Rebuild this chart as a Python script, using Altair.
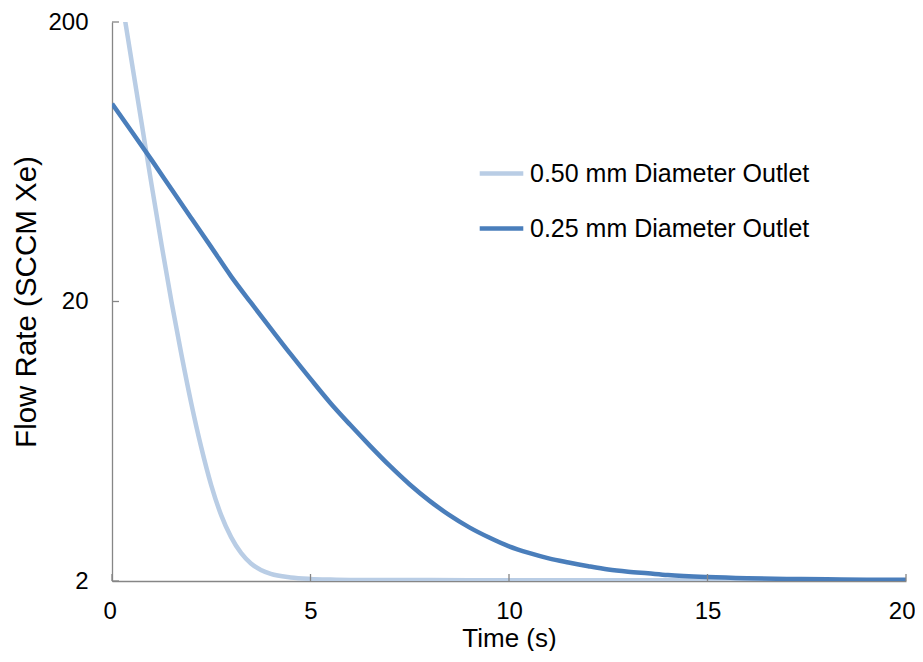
import altair as alt
import pandas as pd

# ---- data ----
series_names = ["0.50 mm Diameter Outlet", "0.25 mm Diameter Outlet"]

x_050 = [0, 0.25, 0.5, 0.75, 1.0, 1.25, 1.5, 1.75, 2.0, 2.25, 2.5, 2.75, 3.0,
         3.25, 3.5, 3.75, 4.0, 4.5, 5.0, 5.5, 6, 8, 10, 12, 14, 16, 18, 20]
y_050 = [390, 238, 143, 86.2, 52.0, 31.8, 19.9, 12.9, 8.6, 6.0, 4.4, 3.44, 2.87,
         2.52, 2.31, 2.19, 2.12, 2.06, 2.035, 2.024, 2.018, 2.015, 2.013, 2.012,
         2.011, 2.01, 2.01, 2.01]

x_025 = [0, 0.5, 1, 1.5, 2, 2.5, 3, 3.5, 4, 4.5, 5, 5.5, 6, 6.5, 7, 7.5, 8, 8.5,
         9, 9.5, 10, 10.5, 11, 11.5, 12, 12.5, 13, 13.5, 14, 15, 16, 17, 18, 19, 20]
y_025 = [102, 81, 64.1, 50.4, 39.7, 31.3, 24.6, 19.8, 16.0, 12.96, 10.57, 8.67, 7.24,
         6.09, 5.16, 4.43, 3.87, 3.44, 3.11, 2.86, 2.66, 2.52, 2.41, 2.33, 2.26, 2.20,
         2.16, 2.13, 2.10, 2.065, 2.045, 2.035, 2.027, 2.022, 2.02]

x_ticks = [0, 5, 10, 15, 20]
y_ticks = [2, 20, 200]

colors = ["#B9CDE5", "#4A7EBB"]

# ---- build tables ----
df_light = pd.DataFrame({"t": x_050, "flow": y_050, "series": series_names[0]})
df_dark = pd.DataFrame({"t": x_025, "flow": y_025, "series": series_names[1]})
df_xt = pd.DataFrame({"t": x_ticks})
df_yt = pd.DataFrame({"flow": y_ticks})

W, H = 794, 559
FONT = "Liberation Sans"

xscale = alt.Scale(domain=[0, 20], nice=False, zero=False)
yscale = alt.Scale(type="log", domain=[2, 200], nice=False)
cscale = alt.Scale(domain=series_names, range=colors)

x_enc = alt.X("t:Q", scale=xscale,
              axis=alt.Axis(title="Time (s)", values=x_ticks, grid=False, tickSize=0,
                            labelPadding=18, titlePadding=2, format="d",
                            labelFlush=True, labelFlushOffset=9, titleFontSize=26))
y_enc = alt.Y("flow:Q", scale=yscale,
              axis=alt.Axis(title="Flow Rate (SCCM Xe)", values=y_ticks, grid=False,
                            tickSize=0, labelPadding=24, titlePadding=6, format="d",
                            titleFontSize=29.5))

legend = alt.Legend(title=None, orient="none", legendX=365, legendY=127,
                    symbolType="stroke", symbolSize=1900, symbolStrokeWidth=4.5,
                    labelFont=FONT, labelFontSize=25, labelColor="#000000",
                    labelOffset=4, rowPadding=17, labelLimit=400)

light = alt.Chart(df_light).mark_line(clip=True, strokeWidth=4.5, interpolate="monotone").encode(
    x=x_enc, y=y_enc,
    color=alt.Color("series:N", scale=cscale, legend=legend, sort=series_names),
)
dark = alt.Chart(df_dark).mark_line(clip=True, strokeWidth=4.5, interpolate="monotone").encode(
    x=alt.X("t:Q", scale=xscale),
    y=alt.Y("flow:Q", scale=yscale),
    color=alt.Color("series:N", scale=cscale, legend=legend, sort=series_names),
)

xt = alt.Chart(df_xt).mark_rule(color="#868686", strokeWidth=1.3).encode(
    x=alt.X("t:Q", scale=xscale),
    y=alt.value(H),
    y2=alt.value(H - 7),
)
yt = alt.Chart(df_yt).mark_rule(color="#868686", strokeWidth=1.3).encode(
    y=alt.Y("flow:Q", scale=yscale),
    x=alt.value(0),
    x2=alt.value(7),
)

chart = alt.layer(light, dark, xt, yt).properties(
    width=W, height=H,
    autosize=alt.AutoSizeParams(type="none"),
    padding={"left": 104, "top": 14, "right": 9, "bottom": 70},
).configure_view(stroke=None).configure_axis(
    domainColor="#868686", domainWidth=1.3,
    labelFont=FONT, labelFontSize=24, labelColor="#000000",
    titleFont=FONT, titleColor="#000000", titleFontWeight="normal",
)

chart.save("out.html", embed_options={"renderer": "svg", "actions": False})
